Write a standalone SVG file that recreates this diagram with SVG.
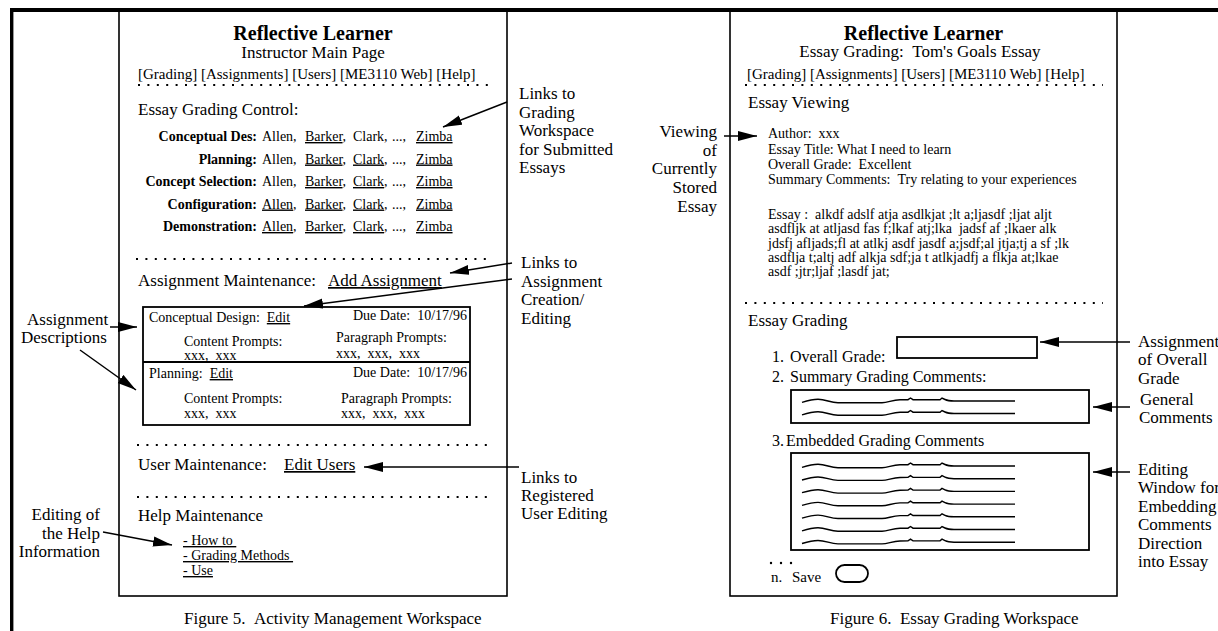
<svg xmlns="http://www.w3.org/2000/svg" width="1218" height="631" viewBox="0 0 1218 631">
<defs>
<style>
text{font-family:"Liberation Serif","Times New Roman",serif;fill:#000}
.t{font-size:20px;font-weight:bold}
.st{font-size:17px}
.nav{font-size:15px}
.h{font-size:17px}
.s{font-size:14px}
.lb{font-size:14px;font-weight:bold;text-anchor:end}
.m{font-size:16px}
.ann{font-size:17px}
.end{text-anchor:end}
.mid{text-anchor:middle}
.u{text-decoration:underline}
.dot{stroke:#000;stroke-width:2;stroke-dasharray:2 7.4;fill:none}
.panel{fill:none;stroke:#000;stroke-width:1.6}
.box{fill:none;stroke:#000;stroke-width:1.8}
.conn{stroke:#000;stroke-width:1.5;fill:none;marker-end:url(#ah)}
.sq{fill:none;stroke:#000;stroke-width:1.4}
</style>
<marker id="ah" markerUnits="userSpaceOnUse" markerWidth="20" markerHeight="11" refX="19" refY="5.5" orient="auto"><path d="M0,0.5 L19,5.5 L0,10.5 z" fill="#000"/></marker>
<path id="sq" class="sq" d="M0,1.3 C6,-0.5 10,-1.7 16,-1.7 C24,-1.7 28,1.7 36,1.7 L80,1.7 C86,1.7 90,-1 98,-1.2 L106,-1.3 L108.5,-3 L111,-1.3 L138,-1.3 L140,-3 L143,-1.5 C145,-0.5 148,0 152,0 L213,0"/>
</defs>
<rect width="1218" height="631" fill="#fff"/>

<g id="frame">
<rect x="10" y="8" width="1208" height="4" fill="#000"/>
<rect x="10" y="8" width="3.4" height="623" fill="#000"/>
</g>

<g id="fig5">
<rect class="panel" x="119" y="10" width="388" height="586"/>
<g id="fig5-header">
<text class="t mid" x="313" y="40">Reflective Learner</text>
<text class="st mid" x="313" y="58">Instructor Main Page</text>
<text class="nav" x="138" y="79">[Grading] [Assignments] [Users] [ME3110 Web] [Help]</text>
<line class="dot" x1="138" y1="85" x2="494" y2="85"/>
</g>
<g id="essay-grading-control">
<text class="h" x="138" y="115">Essay Grading Control:</text>
<text class="lb" x="257" y="141">Conceptual Des:</text>
<text class="s" y="141"><tspan x="262">Allen,</tspan><tspan x="305" class="u">Barker</tspan><tspan>,</tspan><tspan x="353">Clark,</tspan><tspan x="392">...,</tspan><tspan x="416" class="u">Zimba</tspan></text>
<text class="lb" x="257" y="163.5">Planning:</text>
<text class="s" y="163.5"><tspan x="262">Allen,</tspan><tspan x="305" class="u">Barker</tspan><tspan>,</tspan><tspan x="353" class="u">Clark</tspan><tspan>,</tspan><tspan x="392">...,</tspan><tspan x="416" class="u">Zimba</tspan></text>
<text class="lb" x="257" y="186">Concept Selection:</text>
<text class="s" y="186"><tspan x="262">Allen,</tspan><tspan x="305" class="u">Barker</tspan><tspan>,</tspan><tspan x="353" class="u">Clark</tspan><tspan>,</tspan><tspan x="392">...,</tspan><tspan x="416" class="u">Zimba</tspan></text>
<text class="lb" x="257" y="208.5">Configuration:</text>
<text class="s" y="208.5"><tspan x="262" class="u">Allen</tspan><tspan>,</tspan><tspan x="305" class="u">Barker</tspan><tspan>,</tspan><tspan x="353" class="u">Clark</tspan><tspan>,</tspan><tspan x="392">...,</tspan><tspan x="416" class="u">Zimba</tspan></text>
<text class="lb" x="257" y="231">Demonstration:</text>
<text class="s" y="231"><tspan x="262" class="u">Allen</tspan><tspan>,</tspan><tspan x="305" class="u">Barker</tspan><tspan>,</tspan><tspan x="353" class="u">Clark</tspan><tspan>,</tspan><tspan x="392">...,</tspan><tspan x="416" class="u">Zimba</tspan></text>
<line class="dot" x1="136" y1="259" x2="492" y2="259"/>
</g>
<g id="assignment-maintenance">
<text class="h" x="138" y="286">Assignment Maintenance:</text>
<text class="h u" x="328" y="286">Add Assignment</text>
<rect class="box" x="143" y="307" width="327" height="118"/>
<line class="box" x1="143" y1="362" x2="470" y2="362"/>
<text class="s" y="322"><tspan x="149">Conceptual Design:&#160;&#160;</tspan><tspan class="u">Edit</tspan></text>
<text class="s" x="353" y="320">Due Date:&#160;&#160;10/17/96</text>
<text class="s" x="184" y="346">Content Prompts:</text>
<text class="s" x="184" y="359.5">xxx,&#160;&#160;xxx</text>
<text class="s" x="336" y="342">Paragraph Prompts:</text>
<text class="s" x="336" y="358">xxx,&#160;&#160;xxx,&#160;&#160;xxx</text>
<text class="s" y="378"><tspan x="149">Planning:&#160;&#160;</tspan><tspan class="u">Edit</tspan></text>
<text class="s" x="353" y="377">Due Date:&#160;&#160;10/17/96</text>
<text class="s" x="184" y="403">Content Prompts:</text>
<text class="s" x="184" y="417.5">xxx,&#160;&#160;xxx</text>
<text class="s" x="341" y="403">Paragraph Prompts:</text>
<text class="s" x="341" y="418">xxx,&#160;&#160;xxx,&#160;&#160;xxx</text>
<line class="dot" x1="137" y1="445" x2="494" y2="445"/>
</g>
<g id="user-maintenance">
<text class="h" x="138" y="470">User Maintenance:</text>
<text class="h u" x="284" y="470">Edit Users</text>
<line class="dot" x1="137" y1="497" x2="494" y2="497"/>
</g>
<g id="help-maintenance">
<text class="h" x="138" y="521">Help Maintenance</text>
<text class="s u" x="183" y="545">-&#160;How to&#160;</text>
<text class="s u" x="183" y="560">-&#160;Grading Methods&#160;</text>
<text class="s u" x="183" y="575">-&#160;Use</text>
</g>
<text class="h" x="184" y="624">Figure 5.&#160;&#160;Activity Management Workspace</text>
</g>

<g id="ann-grading-links">
<text class="ann" x="519" y="99">Links to</text>
<text class="ann" x="519" y="117.5">Grading</text>
<text class="ann" x="519" y="136">Workspace</text>
<text class="ann" x="519" y="154.5">for Submitted</text>
<text class="ann" x="519" y="173">Essays</text>
</g>
<g id="ann-assignment-links">
<text class="ann" x="521" y="268">Links to</text>
<text class="ann" x="521" y="286.5">Assignment</text>
<text class="ann" x="521" y="305">Creation/</text>
<text class="ann" x="521" y="323.5">Editing</text>
</g>
<g id="ann-user-links">
<text class="ann" x="521" y="483">Links to</text>
<text class="ann" x="521" y="501">Registered</text>
<text class="ann" x="521" y="519">User Editing</text>
</g>
<g id="ann-assignment-desc">
<text class="ann" x="27" y="325">Assignment</text>
<text class="ann" x="21" y="343">Descriptions</text>
</g>
<g id="ann-help">
<text class="ann end" x="100" y="520">Editing of</text>
<text class="ann end" x="100" y="538.5">the Help</text>
<text class="ann end" x="100" y="557">Information</text>
</g>

<g id="fig6">
<rect class="panel" x="730" y="10" width="387" height="586"/>
<g id="fig6-header">
<text class="t mid" x="923.5" y="40">Reflective Learner</text>
<text class="st mid" x="920" y="57">Essay Grading:&#160;&#160;Tom's Goals Essay</text>
<text class="nav" x="747" y="79">[Grading] [Assignments] [Users] [ME3110 Web] [Help]</text>
<line class="dot" x1="745" y1="85" x2="1103" y2="85"/>
</g>
<g id="essay-viewing">
<text class="h" x="748" y="108">Essay Viewing</text>
<text class="s" x="768" y="138">Author:&#160;&#160;xxx</text>
<text class="s" x="768" y="154">Essay Title: What I need to learn</text>
<text class="s" x="768" y="169">Overall Grade:&#160;&#160;Excellent</text>
<text class="s" x="768" y="183.5">Summary Comments:&#160;&#160;Try relating to your experiences</text>
<text class="s" x="768" y="219">Essay :&#160;&#160;alkdf adslf atja asdlkjat ;lt a;ljasdf ;ljat aljt</text>
<text class="s" x="768" y="233.3">asdfljk at atljasd fas f;lkaf atj;lka&#160;&#160;jadsf af ;lkaer alk</text>
<text class="s" x="768" y="247.6">jdsfj afljads;fl at atlkj asdf jasdf a;jsdf;al jtja;tj a sf ;lk</text>
<text class="s" x="768" y="261.9">asdflja t;altj adf alkja sdf;ja t atlkjadfj a flkja at;lkae</text>
<text class="s" x="768" y="276.2">asdf ;jtr;ljaf ;lasdf jat;</text>
<line class="dot" x1="745" y1="303" x2="1103" y2="303"/>
</g>
<g id="essay-grading">
<text class="h" x="748" y="326">Essay Grading</text>
<text class="m" y="362"><tspan x="772">1.</tspan><tspan x="790">Overall Grade:</tspan></text>
<rect class="box" x="897" y="337" width="140" height="21"/>
<text class="m" y="382"><tspan x="772">2.</tspan><tspan x="790">Summary Grading Comments:</tspan></text>
<rect class="box" x="791" y="390" width="298" height="33"/>
<use href="#sq" x="802" y="401"/>
<use href="#sq" x="802" y="413.5"/>
<text class="m" y="446"><tspan x="772">3.</tspan><tspan x="786">Embedded Grading Comments</tspan></text>
<rect class="box" x="791" y="453" width="298" height="97"/>
<use href="#sq" x="802" y="466"/>
<use href="#sq" x="802" y="478.7"/>
<use href="#sq" x="802" y="491.4"/>
<use href="#sq" x="802" y="504.1"/>
<use href="#sq" x="802" y="516.8"/>
<use href="#sq" x="802" y="529.5"/>
<use href="#sq" x="802" y="542.2"/>
<circle cx="771" cy="563" r="1.2"/>
<circle cx="781" cy="563" r="1.2"/>
<circle cx="791" cy="563" r="1.2"/>
<text class="s" y="582" style="font-size:15px"><tspan x="771">n.</tspan><tspan x="792">Save</tspan></text>
<rect class="box" x="836" y="565" width="32" height="17" rx="8.5"/>
</g>
<text class="h" x="830" y="624">Figure 6.&#160;&#160;Essay Grading Workspace</text>
</g>

<g id="ann-viewing">
<text class="ann end" x="717" y="137">Viewing</text>
<text class="ann end" x="717" y="155.5">of</text>
<text class="ann end" x="717" y="174">Currently</text>
<text class="ann end" x="717" y="193">Stored</text>
<text class="ann end" x="717" y="211.5">Essay</text>
</g>
<g id="ann-overall">
<text class="ann" x="1138" y="347">Assignment</text>
<text class="ann" x="1138" y="365.3">of Overall</text>
<text class="ann" x="1138" y="383.6">Grade</text>
</g>
<g id="ann-general">
<text class="ann" x="1140" y="405">General</text>
<text class="ann" x="1139" y="423.3">Comments</text>
</g>
<g id="ann-editing">
<text class="ann" x="1138" y="475">Editing</text>
<text class="ann" x="1138" y="493.4">Window for</text>
<text class="ann" x="1138" y="511.8">Embedding</text>
<text class="ann" x="1138" y="530.2">Comments</text>
<text class="ann" x="1138" y="548.6">Direction</text>
<text class="ann" x="1138" y="567">into Essay</text>
</g>

<g id="connectors">
<path class="conn" d="M507,102 L443,127"/>
<path class="conn" d="M512,263 L450,273"/>
<path class="conn" d="M512,279 L304,306"/>
<path class="conn" d="M519,467 L364,467"/>
<path class="conn" d="M110,327 L137,327"/>
<path class="conn" d="M80,350 L136,390"/>
<path class="conn" d="M103,532 L172,545"/>
<path class="conn" d="M724,136 L757,136"/>
<path class="conn" d="M1130,342 L1040,342"/>
<path class="conn" d="M1130,407 L1093,407"/>
<path class="conn" d="M1130,472 L1093,472"/>
</g>
</svg>
